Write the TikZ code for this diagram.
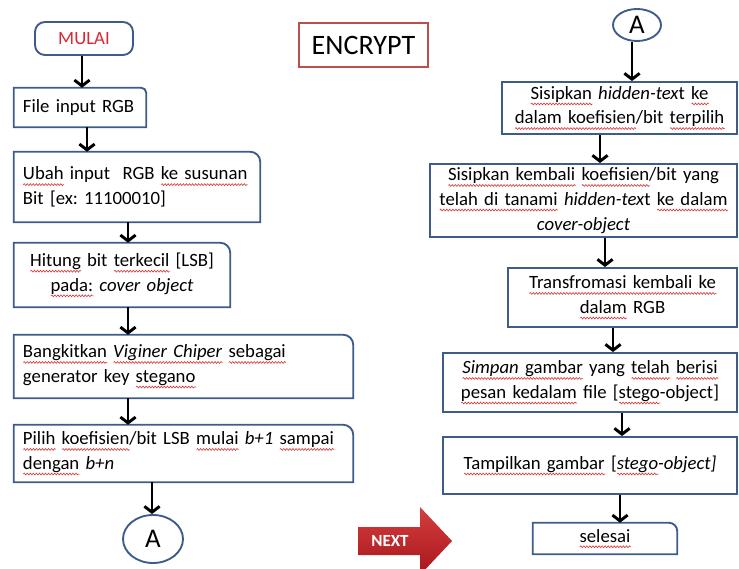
\documentclass[tikz,border=0pt]{standalone}
\usepackage{fontspec}
\setmainfont{Carlito}
\usetikzlibrary{shapes, arrows.meta, positioning, decorations.pathmorphing}
\definecolor{biru}{RGB}{62,92,138}
\definecolor{merahteks}{RGB}{222,38,48}
\definecolor{gelombang}{RGB}{215,50,50}
\definecolor{coklat}{RGB}{188,78,76}
\definecolor{panahatas}{RGB}{212,62,62}
\definecolor{panahbawah}{RGB}{168,22,28}
\newsavebox{\kotaksalah}
\newdimen\lebarsalah
% garis bergelombang merah di bawah kata
\newcommand{\salah}[1]{\leavevmode\sbox{\kotaksalah}{#1}\lebarsalah=\wd\kotaksalah\rlap{\tikz[baseline={(0pt,4pt)}]\draw[gelombang, line width=0.5pt, decorate, decoration={snake, amplitude=0.8pt, segment length=2.6pt}] (0pt,0pt) -- (\lebarsalah,0pt);}\usebox{\kotaksalah}}
\tikzstyle{kotak} = [rectangle, inner xsep=0.27cm, inner ysep=0pt, font=\fontsize{16}{21}\selectfont\frenchspacing]
\tikzstyle{kotakgaris} = [kotak, draw=biru, line width=1.6pt]
\tikzstyle{garis} = [draw=biru, line width=1.6pt]
\tikzstyle{konektor} = [ellipse, draw=biru, line width=1.6pt, inner sep=0pt, font=\fontsize{23}{26}\selectfont]
\tikzstyle{alur} = [-{Straight Barb[length=5pt,width=13pt]}, line width=2.5pt, black]
% kotak dengan sudut kanan atas membulat
\newcommand{\sudut}[2]{\draw[garis] (#1.south west) -- (#1.north west) -- ([xshift=-#2]#1.north east) arc[start angle=90, end angle=0, radius=#2] -- (#1.south east) -- cycle;}

\begin{document}
\begin{tikzpicture}[x=0.03cm, y=-0.03cm]
	\useasboundingbox (0,0) rectangle (739,569);

	% kolom kiri
	\node[kotak, draw=biru, line width=1.6pt, rounded corners=0.3cm, minimum width=2.94cm, minimum height=0.99cm, text=merahteks, font=\fontsize{16}{18}\selectfont] (mulai) at (84,38.5) {MULAI};
	\node[kotak, minimum width=3.96cm, minimum height=1.17cm, text width=3.42cm, align=left] (fileinput) at (80,107.5) {File input RGB};
	\sudut{fileinput}{0.15cm}
	\node[kotak, minimum width=7.38cm, minimum height=2.1cm, text width=6.84cm, align=left] (ubah) at (137,187) {\salah{Ubah} input\ \ RGB \salah{ke susunan}\\ Bit [ex: 11100010]};
	\sudut{ubah}{0.3cm}
	\node[kotak, minimum width=6.48cm, minimum height=1.92cm, text width=5.94cm, align=center] (hitung) at (122,275) {\salah{Hitung} bit \salah{terkecil} [LSB]\\ \salah{pada:} \textit{cover object}};
	\sudut{hitung}{0.3cm}
	\node[kotak, minimum width=10.17cm, minimum height=1.89cm, text width=9.63cm, align=left] (bangkit) at (183.5,366.5) {\salah{Bangkitkan} \salah{\textit{Viginer Chiper}} \salah{sebagai}\\ generator key \salah{stegano}};
	\sudut{bangkit}{0.3cm}
	\node[kotak, minimum width=10.17cm, minimum height=1.71cm, text width=9.63cm, align=left] (pilih) at (183.5,453.5) {\salah{Pilih} \salah{koefisien}/bit LSB \salah{mulai} \textit{b+1} \salah{sampai}\\ \salah{dengan} \textit{b+n}};
	\sudut{pilih}{0.3cm}
	\node[konektor, minimum width=1.8cm, minimum height=1.44cm] (akiri) at (153,539) {A};

	\draw[alur] (mulai.south -| 82,0) -- (fileinput.north -| 82,0);
	\draw[alur] (fileinput.south -| 87,0) -- (ubah.north -| 87,0);
	\draw[alur] (ubah.south -| 128,0) -- (hitung.north -| 128,0);
	\draw[alur] (hitung.south -| 128,0) -- (bangkit.north -| 128,0);
	\draw[alur] (bangkit.south -| 128,0) -- (pilih.north -| 128,0);
	\draw[alur] (pilih.south -| 152,0) -- (akiri.north -| 152,0);

	% judul
	\node[kotak, draw=coklat, line width=1.4pt, minimum width=3.87cm, minimum height=1.32cm, font=\fontsize{24}{26}\selectfont] (judul) at (363.5,45) {ENCRYPT};

	% tombol next
	\shade[top color=panahatas, bottom color=panahbawah] (358,527) -- (420,527) -- (420,507) -- (452,541) -- (420,575) -- (420,555) -- (358,555) -- cycle;
	\node[text=white, font=\fontsize{14.5}{16}\selectfont\bfseries] (next) at (390,541) {NEXT};

	% kolom kanan
	\node[konektor, minimum width=1.44cm, minimum height=0.96cm] (akanan) at (637,25) {A};
	\node[kotakgaris, minimum width=7.05cm, minimum height=1.56cm, text width=6.51cm, align=center] (sisip) at (619.5,108) {\salah{Sisipkan} \textit{hidden-tex}t \salah{ke}\\ \salah{dalam koefisien}/bit \salah{terpilih}};
	\node[kotakgaris, minimum width=9.21cm, minimum height=2.19cm, text width=8.67cm, align=center] (kembali) at (583.5,200.5) {\salah{Sisipkan kembali} \salah{koefisien}/bit yang\\ \salah{telah di tanami} \textit{hidden-tex}t \salah{ke dalam}\\ \textit{cover-object}};
	\node[kotakgaris, minimum width=6.87cm, minimum height=1.77cm, text width=6.33cm, align=center] (transf) at (622.5,297.5) {\salah{Transfromasi kembali ke}\\ \salah{dalam} RGB};
	\node[kotakgaris, minimum width=8.82cm, minimum height=1.77cm, text width=8.28cm, align=center] (simpan) at (590,382.5) {\salah{\textit{Simpan} gambar} yang \salah{telah} \salah{berisi}\\ \salah{pesan kedalam} file [\salah{stego}-object]};
	\node[kotakgaris, minimum width=8.82cm, minimum height=1.71cm, text width=8.28cm, align=center] (tampil) at (590,465.5) {\salah{Tampilkan gambar} [\salah{\textit{stego}}\textit{-object]}};
	\node[kotak, minimum width=4.32cm, minimum height=0.93cm, text width=3.78cm, align=center] (selesai) at (605,538.5) {\salah{selesai}};
	\sudut{selesai}{0.25cm}

	\draw[alur] (akanan.south -| 632,0) -- (sisip.north -| 632,0);
	\draw[alur] (sisip.south -| 600,0) -- (kembali.north -| 600,0);
	\draw[alur] (kembali.south -| 605,0) -- (transf.north -| 605,0);
	\draw[alur] (transf.south -| 613,0) -- (simpan.north -| 613,0);
	\draw[alur] (simpan.south -| 622,0) -- (tampil.north -| 622,0);
	\draw[alur] (tampil.south -| 620,0) -- (selesai.north -| 620,0);
\end{tikzpicture}
\end{document}
